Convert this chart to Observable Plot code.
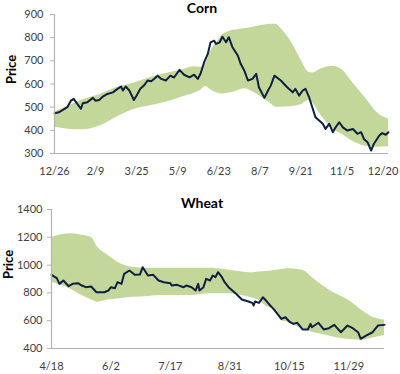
<!DOCTYPE html>
<html><head><meta charset="utf-8">
<script src="https://cdn.jsdelivr.net/npm/d3@7"></script>
<script src="https://cdn.jsdelivr.net/npm/@observablehq/plot@0.6"></script>
<style>
body{margin:0;background:#fff;font-family:Lato,sans-serif;}
#wrap{position:relative;width:400px;height:374px;overflow:hidden;}
.panel{position:absolute;left:0;width:400px;}
.title{position:absolute;left:0;width:400px;text-align:center;font-family:Lato,sans-serif;font-weight:bold;font-size:14px;line-height:14px;color:#000;padding-left:4px;box-sizing:border-box;}
</style></head>
<body><div id="wrap"></div>
<script>
// ---------- Corn ----------
const cornTickDays = [0,45,90,135,180,225,270,315,360];
const cornTickLabels = ["12/26","2/9","3/25","5/9","6/23","8/7","9/21","11/5","12/20"];
const cornYTicks = [300,400,500,600,700,800,900];
const cornLineDays = [0,5,11,14,18,21,25,29,31,36,42,45,49,53,58,64,69,73,75,78,82,87,90,94,98,102,106,109,113,117,122,127,131,137,142,148,153,157,160,164,168,171,175,177,181,184,188,191,195,201,204,208,212,217,221,224,230,234,237,241,248,255,261,264,268,272,275,279,283,286,290,294,297,301,305,308,312,316,321,327,332,336,339,343,347,350,356,359,363,366];
const cornPrice = [474,478,493,500,528,536,514,493,517,521,540,528,531,546,557,564,579,589,572,589,572,531,550,579,593,615,612,622,636,622,615,636,628,661,640,629,640,622,644,694,730,780,787,773,780,804,780,802,759,722,687,658,615,622,644,586,540,572,593,636,615,586,564,579,550,572,579,543,493,456,442,428,406,428,392,413,435,413,399,406,385,392,363,349,313,342,378,388,381,392];
const cornBandDays = [0,15,30,51,69,87,106,122,139,153,160,166,171,179,183,190,196,208,218,226,237,243,248,259,270,279,283,292,305,314,328,343,354,366];
const cornBandHigh = [478,505,530,557,586,603,629,645,660,675,672,690,740,785,808,824,832,839,845,852,858,858,840,785,705,650,648,665,677,665,600,528,475,449];
const cornBandLow  = [413,405,402,421,459,490,507,521,543,560,572,589,575,560,557,560,564,579,564,545,515,500,500,502,510,530,518,465,405,385,350,330,327,330];

// ---------- Wheat ----------
const wheatTickDays = [0,45,90,135,180,225];
const wheatTickLabels = ["4/18","6/2","7/17","8/31","10/15","11/29"];
const wheatYTicks = [400,600,800,1000,1200,1400];
const wheatLineDays = [0,4,6,9,13,16,20,23,26,30,34,40,43,45,48,50,53,55,59,63,67,69,73,77,81,85,90,91,95,100,102,106,109,111,112,115,117,120,122,124,126,129,131,134,139,141,144,149,152,153,154,157,160,163,166,168,172,174,177,180,183,186,190,194,196,197,202,206,210,214,219,224,228,232,234,238,243,247,252];
const wheatPrice = [930,906,865,889,848,865,870,853,841,846,805,805,817,841,834,877,865,937,961,930,933,985,925,930,889,877,870,853,858,841,853,841,817,865,817,841,901,889,925,913,949,913,877,841,800,781,752,738,728,709,738,728,769,738,704,685,637,613,625,594,577,585,537,537,577,553,585,537,546,570,517,565,546,517,470,493,517,565,570];
const wheatBandDays = [0,15,23,30,35,43,50,61,73,84,106,119,131,144,151,157,163,168,174,178,190,198,205,215,226,235,243,252];
const wheatBandHigh = [1200,1225,1215,1200,1128,1069,1020,985,977,978,977,977,968,950,944,950,954,960,968,973,963,905,853,793,740,673,625,605];
const wheatBandLow  = [877,825,781,750,733,750,757,768,775,781,781,793,793,781,765,745,700,685,600,590,540,515,500,480,465,460,475,493];

const GREEN = "#c4d79b", NAVY = "#0f1f40", AXIS = "#b3b3b3", TXT = "#404040";

function panel(o) {
  const line = o.lineDays.map((d, i) => ({day: d, price: o.price[i]}));
  const band = o.bandDays.map((d, i) => ({day: d, lo: o.low[i], hi: o.high[i]}));
  const lab = new Map(o.tickDays.map((d, i) => [d, o.tickLabels[i]]));
  return Plot.plot({
    width: 400, height: 187,
    marginTop: o.mt, marginBottom: o.mb, marginLeft: o.ml, marginRight: o.mr,
    style: {fontFamily: "Lato, sans-serif", fontSize: "11px", color: TXT, background: "transparent"},
    x: {domain: o.xDomain},
    y: {domain: o.yDomain},
    marks: [
      Plot.areaY(band, {x: "day", y1: "lo", y2: "hi", fill: GREEN, curve: "monotone-x"}),
      Plot.lineY(line, {x: "day", y: "price", stroke: NAVY, strokeWidth: 2, strokeLinejoin: "round"}),
      Plot.ruleX([o.xDomain[0]], {stroke: AXIS, strokeWidth: 1.2}),
      Plot.ruleY([o.yDomain[0]], {stroke: AXIS, strokeWidth: 1.2}),
      Plot.axisY({ticks: o.yTicks, tickFormat: d => String(d), tickSize: 4, tickPadding: o.yPad, stroke: AXIS, fill: TXT, label: null}),
      Plot.axisX({ticks: o.tickDays, tickFormat: d => lab.get(d), tickSize: 0, tickPadding: 14, fill: TXT, label: null}),
      Plot.text(["Price"], {frameAnchor: "left", dx: -43, rotate: -90, fontWeight: "bold", fontSize: 13, fill: "#000"})
    ]
  });
}

const wrap = document.getElementById("wrap");
const c = panel({lineDays: cornLineDays, price: cornPrice, bandDays: cornBandDays, low: cornBandLow, high: cornBandHigh,
  tickDays: cornTickDays, tickLabels: cornTickLabels, yTicks: cornYTicks, xDomain: [0, 366], yDomain: [300, 900],
  mt: 14, mb: 34, ml: 54, mr: 12, yPad: 7});
c.classList.add("panel"); c.style.top = "0px";
wrap.appendChild(c);
const w = panel({lineDays: wheatLineDays, price: wheatPrice, bandDays: wheatBandDays, low: wheatBandLow, high: wheatBandHigh,
  tickDays: wheatTickDays, tickLabels: wheatTickLabels, yTicks: wheatYTicks, xDomain: [0, 252], yDomain: [400, 1400],
  mt: 22, mb: 26, ml: 51, mr: 16, yPad: 5});
w.classList.add("panel"); w.style.top = "187px";
wrap.appendChild(w);

const t1 = document.createElement("div"); t1.className = "title"; t1.textContent = "Corn"; t1.style.top = "1px"; wrap.appendChild(t1);
const t2 = document.createElement("div"); t2.className = "title"; t2.textContent = "Wheat"; t2.style.top = "196px"; wrap.appendChild(t2);
</script>
</body></html>
